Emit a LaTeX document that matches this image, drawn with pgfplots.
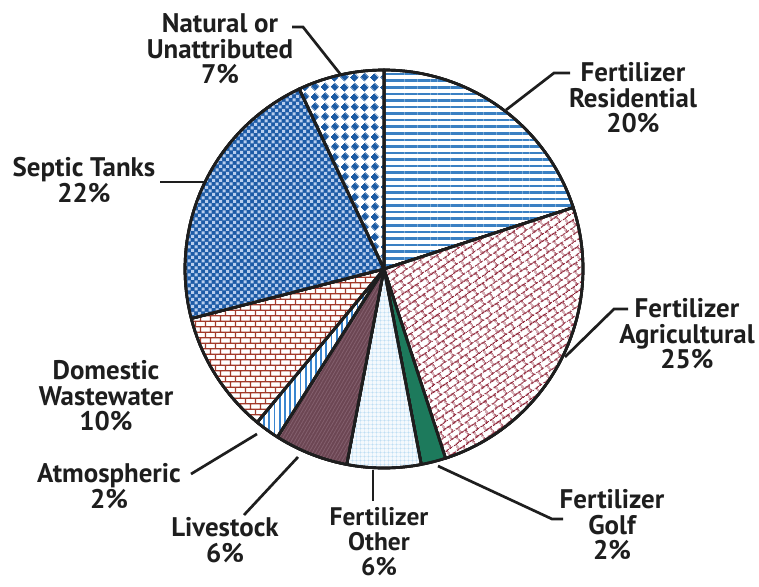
\documentclass[border=0pt]{standalone}
\usepackage{fontspec}
\setmainfont{PT Sans}
\usepackage{pgfplots}
\usepackage{pgfplotstable}
\pgfplotsset{compat=1.18}
\usetikzlibrary{patterns.meta}

\definecolor{resblue}{HTML}{3A80C3}
\definecolor{agred}{HTML}{8E2236}
\definecolor{golfgreen}{HTML}{1D7A5C}
\definecolor{gridblue}{HTML}{A3D0EE}
\definecolor{gridbg}{HTML}{F4F9FD}
\definecolor{livebg}{HTML}{6C4653}
\definecolor{livestripe}{HTML}{84606E}
\definecolor{atmblue}{HTML}{3A86D0}
\definecolor{brickred}{HTML}{A23A2B}
\definecolor{darkchk}{HTML}{1D5BA6}
\definecolor{lightchk}{HTML}{B7CDEE}
\definecolor{diamblue}{HTML}{1B5AA3}
\definecolor{outline}{HTML}{1E1E1E}

% rotated bricks (shingle)
\pgfdeclarepattern{
  name=Shingle, type=uncolored,
  bottom left={\pgfpoint{0pt}{0pt}}, top right={\pgfpoint{10.5pt}{12pt}},
  tile size={\pgfpoint{10.5pt}{12pt}},
  tile transformation={\pgftransformrotate{35}},
  code={
    \pgfsetlinewidth{1.15pt}
    \pgfpathmoveto{\pgfpoint{0pt}{3pt}}\pgfpathlineto{\pgfpoint{10.5pt}{3pt}}
    \pgfpathmoveto{\pgfpoint{0pt}{9pt}}\pgfpathlineto{\pgfpoint{10.5pt}{9pt}}
    \pgfpathmoveto{\pgfpoint{2.6pt}{3pt}}\pgfpathlineto{\pgfpoint{2.6pt}{9pt}}
    \pgfpathmoveto{\pgfpoint{7.85pt}{9pt}}\pgfpathlineto{\pgfpoint{7.85pt}{12pt}}
    \pgfpathmoveto{\pgfpoint{7.85pt}{0pt}}\pgfpathlineto{\pgfpoint{7.85pt}{3pt}}
    \pgfusepath{stroke}
  }
}
% horizontal bricks
\pgfdeclarepattern{
  name=Brick, type=uncolored,
  bottom left={\pgfpoint{0pt}{0pt}}, top right={\pgfpoint{10.5pt}{11pt}},
  tile size={\pgfpoint{10.5pt}{11pt}},
  code={
    \pgfsetlinewidth{1.3pt}
    \pgfpathmoveto{\pgfpoint{0pt}{2.75pt}}\pgfpathlineto{\pgfpoint{10.5pt}{2.75pt}}
    \pgfpathmoveto{\pgfpoint{0pt}{8.25pt}}\pgfpathlineto{\pgfpoint{10.5pt}{8.25pt}}
    \pgfpathmoveto{\pgfpoint{2.6pt}{2.75pt}}\pgfpathlineto{\pgfpoint{2.6pt}{8.25pt}}
    \pgfpathmoveto{\pgfpoint{7.85pt}{8.25pt}}\pgfpathlineto{\pgfpoint{7.85pt}{11pt}}
    \pgfpathmoveto{\pgfpoint{7.85pt}{0pt}}\pgfpathlineto{\pgfpoint{7.85pt}{2.75pt}}
    \pgfusepath{stroke}
  }
}
% checker of small squares
\pgfdeclarepattern{
  name=SmallChecker, type=uncolored,
  bottom left={\pgfpoint{0pt}{0pt}}, top right={\pgfpoint{7.4pt}{7.4pt}},
  tile size={\pgfpoint{7.4pt}{7.4pt}},
  code={
    \pgfpathrectangle{\pgfpoint{0.2pt}{0.2pt}}{\pgfpoint{3.3pt}{3.3pt}}
    \pgfpathrectangle{\pgfpoint{3.9pt}{3.9pt}}{\pgfpoint{3.3pt}{3.3pt}}
    \pgfusepath{fill}
  }
}
% diamonds
\pgfdeclarepattern{
  name=Diamonds, type=uncolored,
  bottom left={\pgfpoint{0pt}{0pt}}, top right={\pgfpoint{14pt}{14pt}},
  tile size={\pgfpoint{14pt}{14pt}},
  tile transformation={\pgftransformrotate{45}},
  code={
    \pgfpathrectangle{\pgfpoint{0.4pt}{0.4pt}}{\pgfpoint{6.2pt}{6.2pt}}
    \pgfpathrectangle{\pgfpoint{7.4pt}{7.4pt}}{\pgfpoint{6.2pt}{6.2pt}}
    \pgfusepath{fill}
  }
}
% fine grid
\pgfdeclarepattern{
  name=FineGrid, type=uncolored,
  bottom left={\pgfpoint{0pt}{0pt}}, top right={\pgfpoint{4.2pt}{4.2pt}},
  tile size={\pgfpoint{4.2pt}{4.2pt}},
  code={
    \pgfsetlinewidth{0.55pt}
    \pgfpathmoveto{\pgfpoint{2.1pt}{0pt}}\pgfpathlineto{\pgfpoint{2.1pt}{4.2pt}}
    \pgfpathmoveto{\pgfpoint{0pt}{2.1pt}}\pgfpathlineto{\pgfpoint{4.2pt}{2.1pt}}
    \pgfusepath{stroke}
  }
}

\tikzset{
  slicebase/.style={draw=outline, line width=2.7pt, line join=round},
  slice0/.style={slicebase, preaction={fill=white}, preaction={pattern={Lines[angle=0,distance=6.6pt,line width=2.6pt]}, pattern color=resblue}},
  slice1/.style={slicebase, preaction={fill=white}, preaction={pattern=Shingle, pattern color=agred}},
  slice2/.style={slicebase, preaction={fill=golfgreen}},
  slice3/.style={slicebase, preaction={fill=gridbg}, preaction={pattern=FineGrid, pattern color=gridblue}},
  slice4/.style={slicebase, preaction={fill=livebg}, preaction={pattern={Lines[angle=60,distance=3pt,line width=0.8pt]}, pattern color=livestripe}},
  slice5/.style={slicebase, preaction={fill=white}, preaction={pattern={Lines[angle=90,distance=5.2pt,line width=1.8pt]}, pattern color=atmblue}},
  slice6/.style={slicebase, preaction={fill=white}, preaction={pattern=Brick, pattern color=brickred}},
  slice7/.style={slicebase, preaction={fill=darkchk}, preaction={pattern=SmallChecker, pattern color=lightchk}},
  slice8/.style={slicebase, preaction={fill=white}, preaction={pattern=Diamonds, pattern color=diamblue}},
  lbl/.style={align=center, font=\fontsize{27}{25.5}\selectfont\bfseries, inner sep=0pt, text=outline},
  leader/.style={outline, line width=2.7pt, line join=miter, mark=none},
}

% Shares of the nitrogen sources, percent, clockwise from the top
\pgfplotstableread{
slice pct
0 20
1 25
2 2
3 6
4 6
5 2
6 10
7 22
8 7
}\piedata

\def\cumul{0}
\pgfplotsforeachungrouped \i in {0,...,8}{%
  \pgfplotstablegetelem{\i}{pct}\of\piedata
  \pgfmathsetmacro\angA{90-3.6*\cumul}%
  \pgfmathsetmacro\cumul{\cumul+\pgfplotsretval}%
  \pgfmathsetmacro\angB{90-3.6*\cumul}%
  \expandafter\xdef\csname sA\i\endcsname{\angA}%
  \expandafter\xdef\csname sB\i\endcsname{\angB}%
}

\begin{document}
\begin{tikzpicture}
\begin{axis}[
  width=759bp, height=587bp, scale only axis,
  xmin=0, xmax=759, ymin=0, ymax=587, y dir=reverse,
  axis lines=none, ticks=none, clip=false,
]
\pgfplotsinvokeforeach{0,...,8}{
  \edef\temp{\noexpand\addplot[slice#1, domain=\csname sB#1\endcsname:\csname sA#1\endcsname, samples=90, variable=\noexpand\t]}
  \temp ({384+199*cos(\t)}, {269-199*sin(\t)}) -- (384,269) -- cycle;
}
% leader lines
\addplot[leader] coordinates {(292,27) (303,27) (341,75)};
\addplot[leader] coordinates {(570,73) (554,73) (506,110)};
\addplot[leader] coordinates {(628,309) (614,309) (565,357)};
\addplot[leader] coordinates {(563,519) (552,519) (438,466)};
\addplot[leader] coordinates {(373,470) (373,501)};
\addplot[leader] coordinates {(244,515) (298,457)};
\addplot[leader] coordinates {(191,474) (257,434)};
\addplot[leader] coordinates {(160,182) (205,182)};
% labels
\node[lbl] at (axis cs:220,49) {Natural or\\Unattributed\\7\%};
\node[lbl] at (axis cs:633,98) {Fertilizer\\Residential\\20\%};
\node[lbl] at (axis cs:687,334) {Fertilizer\\Agricultural\\25\%};
\node[lbl] at (axis cs:612,525) {Fertilizer\\Golf\\2\%};
\node[lbl, font=\fontsize{25.5}{25}\selectfont\bfseries] at (axis cs:379,542) {Fertilizer\\Other\\6\%};
\node[lbl] at (axis cs:225,540) {Livestock\\6\%};
\node[lbl] at (axis cs:109,486) {Atmospheric\\2\%};
\node[lbl] at (axis cs:106,396) {Domestic\\Wastewater\\10\%};
\node[lbl] at (axis cs:84,180) {Septic Tanks\\22\%};
\end{axis}
\pgfresetboundingbox
\path (current axis.south west) rectangle (current axis.north east);
\end{tikzpicture}
\end{document}
